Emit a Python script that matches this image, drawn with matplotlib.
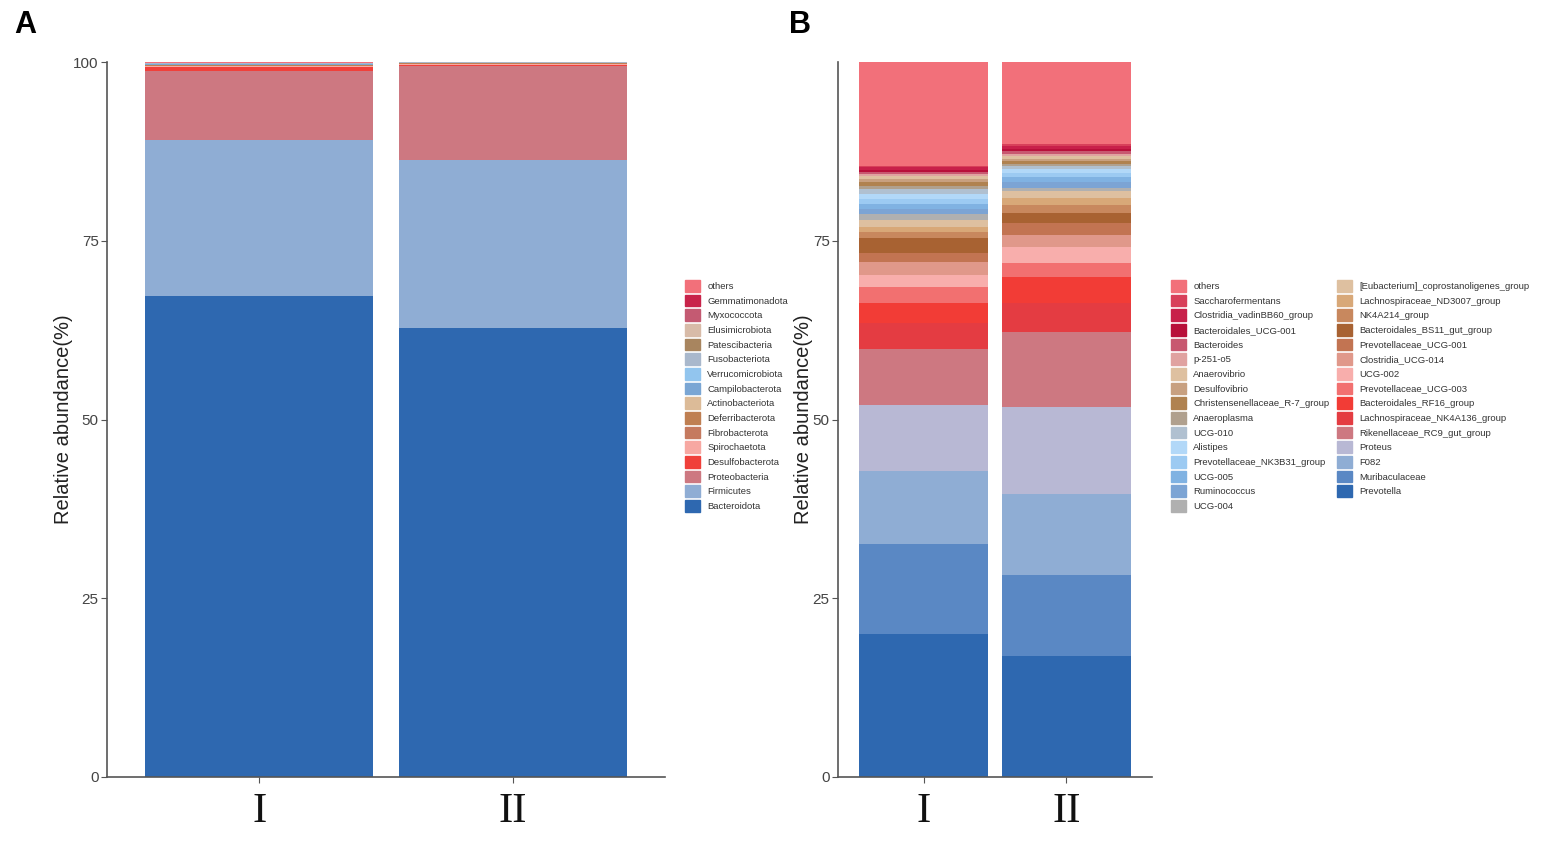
import numpy as np
import matplotlib.pyplot as plt
from matplotlib.patches import Patch

plt.rcParams['font.family'] = ['Liberation Sans', 'DejaVu Sans']

groups = ["I", "II"]

# panel A, phylum level (bottom -> top of the stack)
phylum_names = ["Bacteroidota", "Firmicutes", "Proteobacteria", "Desulfobacterota",
                "Spirochaetota", "Fibrobacterota", "Deferribacterota", "Actinobacteriota",
                "Campilobacterota", "Verrucomicrobiota", "Fusobacteriota", "Patescibacteria",
                "Elusimicrobiota", "Myxococcota", "Gemmatimonadota", "others"]
phylum_I = [67.3, 21.8, 9.6, 0.6, 0.12, 0.08, 0.05, 0.10, 0.06, 0.05, 0.04, 0.05,
            0.03, 0.03, 0.02, 0.07]
phylum_II = [62.8, 23.5, 13.1, 0.25, 0.08, 0.05, 0.03, 0.06, 0.03, 0.02, 0.02, 0.02,
             0.01, 0.01, 0.01, 0.01]
phylum_colors = ["#2e68b0", "#8fadd4", "#cd7881", "#f0403a", "#f7a8a2", "#c57a5f",
                 "#bf7f52", "#dcbb98", "#7aa6d4", "#92c5ee", "#a9b8cc", "#a8855f",
                 "#d8bba8", "#c45a72", "#c8234a", "#f2707a"]

# panel B, genus level (bottom -> top of the stack)
genus_names = ["Prevotella", "Muribaculaceae", "F082", "Proteus",
               "Rikenellaceae_RC9_gut_group", "Lachnospiraceae_NK4A136_group",
               "Bacteroidales_RF16_group", "Prevotellaceae_UCG-003", "UCG-002",
               "Clostridia_UCG-014", "Prevotellaceae_UCG-001", "Bacteroidales_BS11_gut_group",
               "NK4A214_group", "Lachnospiraceae_ND3007_group",
               "[Eubacterium]_coprostanoligenes_group", "UCG-004", "Ruminococcus", "UCG-005",
               "Prevotellaceae_NK3B31_group", "Alistipes", "UCG-010", "Anaeroplasma",
               "Christensenellaceae_R-7_group", "Desulfovibrio", "Anaerovibrio", "p-251-o5",
               "Bacteroides", "Bacteroidales_UCG-001", "Clostridia_vadinBB60_group",
               "Saccharofermentans", "others"]
genus_I = [20.0, 12.6, 10.2, 9.2, 7.9, 3.6, 2.8, 2.2, 1.7, 1.8, 1.3, 2.1, 0.8, 0.7, 1.0,
           0.8, 0.8, 0.7, 0.6, 0.7, 0.8, 0.4, 0.5, 0.4, 0.4, 0.4, 0.2, 0.3, 0.4, 0.2, 14.5]
genus_II = [16.9, 11.4, 11.3, 12.1, 10.5, 4.1, 3.6, 2.0, 2.2, 1.7, 1.7, 1.4, 1.1, 1.0, 1.0,
            0.4, 0.8, 0.7, 0.6, 0.5, 0.4, 0.4, 0.4, 0.3, 0.3, 0.4, 0.3, 0.3, 0.4, 0.3, 11.5]
genus_colors = ["#2e68b0", "#5a88c4", "#8fadd4", "#b8b8d4", "#cd7881", "#e43c42",
                "#f23c36", "#f27070", "#f8aeac", "#e0988a", "#c27452", "#a86232",
                "#c8885e", "#d8a878", "#dec0a0", "#b0b0b0", "#7ca4d4", "#80b2e2",
                "#9ccaf2", "#b2d8f8", "#b0c0d0", "#b0a08e", "#b08250", "#c8a080",
                "#dec0a0", "#e0a2a0", "#c85870", "#b8103a", "#c8204a", "#d8405a",
                "#f2707a"]


def stacked(ax, names, vals_I, vals_II, colors):
    x = np.arange(1, len(groups) + 1)
    bottom = np.zeros(len(groups))
    for name, a, b, c in zip(names, vals_I, vals_II, colors):
        v = np.array([a, b])
        ax.bar(x, v, bottom=bottom, width=0.9, color=c, linewidth=0, label=name)
        bottom += v
    ax.set_xlim(0.4, 2.6)
    ax.set_ylim(0, 100)
    ax.set_xticks(x)
    ax.set_xticklabels(groups, fontsize=31, family=['Liberation Serif', 'DejaVu Serif'])
    for s in ["top", "right"]:
        ax.spines[s].set_visible(False)
    for s in ["left", "bottom"]:
        ax.spines[s].set_color("#555555")
        ax.spines[s].set_linewidth(1.2)
    ax.tick_params(axis="y", labelsize=11, colors="#555555", labelcolor="#444444",
                   length=4, pad=2)
    ax.tick_params(axis="x", colors="#555555", labelcolor="#111111", length=4, pad=7)
    ax.set_ylabel("Relative abundance(%)", fontsize=14.5, color="#222222", labelpad=0)


fig = plt.figure(figsize=(15.44, 8.44), dpi=100)
axA = fig.add_axes([107 / 1544, 67 / 844, 558 / 1544, 715 / 844])
axB = fig.add_axes([838 / 1544, 67 / 844, 314 / 1544, 715 / 844])

stacked(axA, phylum_names, phylum_I, phylum_II, phylum_colors)
axA.set_yticks([0, 25, 50, 75, 100])

stacked(axB, genus_names, genus_I, genus_II, genus_colors)
axB.set_yticks([0, 25, 50, 75])

leg_kw = dict(loc="upper left", frameon=False, borderpad=0, borderaxespad=0,
              fontsize=6.8, labelcolor="#333333", handlelength=1.6, handleheight=1.55,
              labelspacing=0.3, handletextpad=0.75)
hA = [Patch(color=c, label=n) for n, c in zip(phylum_names, phylum_colors)][::-1]
fig.legend(handles=hA, bbox_to_anchor=(685 / 1544, 1 - 280 / 844), **leg_kw)
hB = [Patch(color=c, label=n) for n, c in zip(genus_names, genus_colors)][::-1]
fig.legend(handles=hB, bbox_to_anchor=(1171 / 1544, 1 - 280 / 844), ncol=2,
           columnspacing=0.8, **leg_kw)

fig.text(14 / 1544, 1 - 10 / 844, "A", fontsize=22, fontweight="bold", va="top")
fig.text(789 / 1544, 1 - 10 / 844, "B", fontsize=22, fontweight="bold", va="top")

fig.savefig("out.png", dpi=100)
